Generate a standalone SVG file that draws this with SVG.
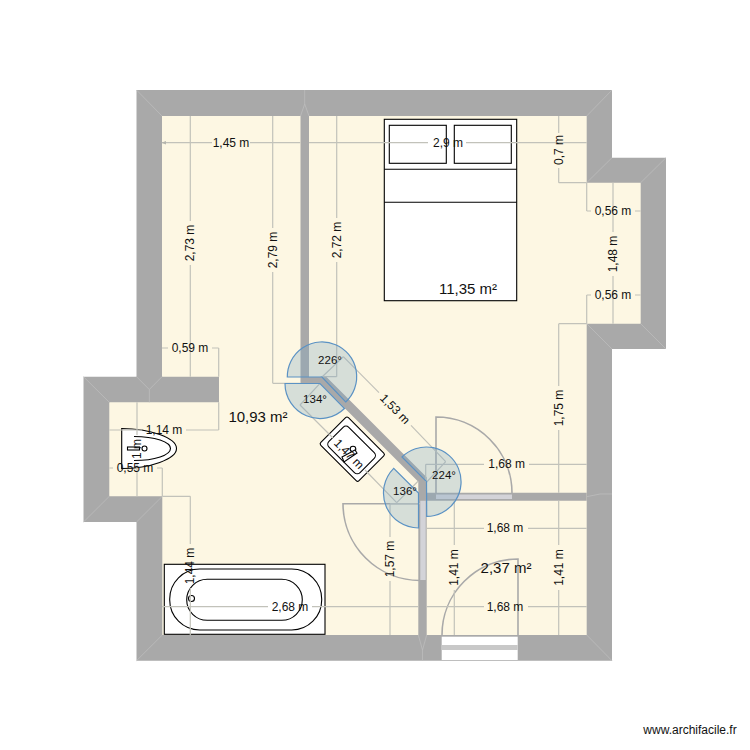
<svg xmlns="http://www.w3.org/2000/svg" width="750" height="750" viewBox="0 0 750 750">
<style>
text{font-family:"Liberation Sans",Arial,sans-serif;fill:#111;text-anchor:middle;dominant-baseline:central}
.d{font-size:12px}
.a{font-size:11.5px}
.s{font-size:15px}
.dl{fill:none;stroke:#c2c2ba;stroke-width:1.2;marker-start:url(#ar)}
.ex{fill:none;stroke:#c2c2ba;stroke-width:1.2}
.wall{fill:#a9a9a9}
.bg{fill:#fdf7e3}
.fu{fill:#fff;stroke:#000;stroke-width:1.1}
.fn{fill:none;stroke:#000;stroke-width:1.1}
.ang{fill:#7ea6c0;fill-opacity:.3;stroke:#5b92c4;stroke-width:1.2}
.door{fill:none;stroke:#a9a9a9;stroke-width:1.6}
.mit{fill:none;stroke:#bcbcbc;stroke-width:.8}
</style>
<defs>
<marker id="ar" viewBox="0 0 8 8" refX="1" refY="4" markerWidth="5" markerHeight="5" markerUnits="userSpaceOnUse" orient="auto"><path d="M8 1L0 4L8 7Z" fill="#b5b5ad"/></marker>
</defs>
<rect width="750" height="750" fill="#fff"/>
<g id="walls">
<path class="wall" d="M136.500 90H612V157.700H666V349H612V660.700H136.500V522H83.500V376.700H136.500Z"/>
<path class="bg" d="M162 116H586.700V182.700H640.700V323.700H586.700V635H162.300V496.300H109.300V402.300H219V376.700H162Z"/>
<path class="wall" d="M300.500 116H309V377H326.500L426.700 477.200V492.700H586.700V500.700H426.700V635H418.300V481.800L319.800 383.300H300.500Z"/>
<path class="mit" d="M136.500 90L162 116M612 90L586.700 116M612 157.700L586.700 182.700M666 157.700L640.700 182.700M666 349L640.700 323.700M612 349L586.700 323.700M612 660.700L586.700 635M136.500 660.700L162.300 635M136.500 522L162.300 496.300M83.500 522L109.300 496.300M83.500 376.700L109.300 402.300M136.500 376.700L149.300 389.500L162 376.700M149.300 389.500V402.300M304.700 90V104L300.500 116M304.700 104L309 116M422.500 660.700V650L418.300 635M422.500 650L426.700 635M586.700 496.700L600 494L612 494"/>
<path fill="#d3d3d8" d="M436 494.500H512V499H436ZM420.300 500.700H425.700V580H420.300Z"/>
<rect x="441.700" y="636.700" width="76" height="23.300" fill="#fff"/>
<rect x="441.700" y="645" width="76" height="5" fill="#c8c8c8"/>
</g>
<g id="bed">
<rect class="fu" x="384.300" y="119.300" width="132.400" height="181.400"/>
<path class="fn" d="M384.300 169.300H516.700M384.300 202.300H516.700"/>
<rect class="fn" x="389.300" y="125.300" width="57" height="38"/>
<rect class="fn" x="454.300" y="125.300" width="57" height="38"/>
</g>
<g id="bathtub">
<rect class="fu" x="164.300" y="564.300" width="160.700" height="70"/>
<rect class="fn" x="169.700" y="569" width="152" height="61" rx="30" ry="30"/>
<rect class="fn" x="186.700" y="579.300" width="115.600" height="41" rx="20.500" ry="20.500"/>
<circle class="fn" cx="191.500" cy="598.500" r="3"/>
</g>
<g id="sink-left">
<path class="fu" d="M121.700 428.500C150 428.500 176.500 438 176.500 448.500C176.500 459 150 468.500 121.700 468.500Z"/>
<path class="fn" d="M134 436.500C155 436.500 170.500 442 170.500 448.500C170.500 455 155 460.500 134 460.500"/>
<rect class="fu" x="127.500" y="447" width="12" height="3"/>
<circle class="fu" cx="144.500" cy="448.500" r="2.500"/>
</g>
<g id="sink-diagonal">
<rect class="fu" x="-27" y="-19.500" width="54" height="39" rx="2" transform="translate(352.300 449.200) rotate(45)"/>
<rect class="fn" x="-22" y="-13" width="44" height="28" rx="4" transform="translate(352.300 449.200) rotate(45)"/>
<circle class="fu" cx="353" cy="449" r="2.800"/>
<path class="fu" d="M342 457L355 450L357 453L344 462Z"/>
</g>
<g id="connectors">
<path class="door" d="M436 493V417A76 76 0 0 1 512 493M420 580.500A77 77 0 0 1 343 503.700H420M442 635A76 76 0 0 1 518 559V635"/>
<path class="dl" d="M162 142.700H212M300.300 142.700H250M309 142.700H428M586.700 142.700H466M558.700 116V133M558.700 182.700V168M586.700 211H591M640.700 211H635M586.700 295H591M640.700 295H635M613 182.700V232M613 323.700V276M558.700 323.700V386M558.700 492.700V430M190.300 116V221M190.300 376.700V265M272.700 116V228M272.700 383.300V272M336.700 116V218M336.700 376.700V262M162 348H168M218.700 348H212M109.300 430H142M218.700 430H186M109.300 468H113M162.300 468H157M137 402.300V435M137 496.300V463M190.300 496.300V544M190.300 635V588M390 503.700V537M390 635V581M343.300 356.700L379 392.600M445.700 461.700L411 425.400M300 405L333 438M396.700 502.700L365 470M425.700 464.300H484M586.700 464.300H529M426.700 528.300H484M586.700 528.300H528M426.700 606.700H484M586.700 606.700H528M162 606.700H268M418.300 606.700H312M454.300 500.700V545M454.300 635V590M558.700 500.700V545M558.700 635V590"/>
<path class="ex" d="M558.700 182.700H586.700M586.700 182.700V211M586.700 295V323.700M558.700 323.700H586.700M218.700 348V376.700M218.700 402.300V430M162.300 468V496.300M162.300 496.300H190.300M272.700 383.300H300.500M336.700 376.700H320.700M343.300 356.700L322 377M445.700 461.700L426.700 482M300 405L320 383.300M396.700 502.700L418.300 481M425.700 464.300V482M390 503.700H420"/>
</g>
<g id="angles">
<path class="ang" d="M322 377H287.300A34.700 34.700 0 1 1 345.700 402Z"/>
<path class="ang" d="M320 383.500H285A35 35 0 0 0 344.500 408.500Z"/>
<path class="ang" d="M426.500 481.700L402 457A34.700 34.700 0 1 1 426.700 516.400Z"/>
<path class="ang" d="M418.500 493V528A35 35 0 0 1 393.700 468.300Z"/>
</g>
<g id="labels">
<text class="d" x="231" y="142.700">1,45 m</text>
<text class="d" x="448" y="142.700">2,9 m</text>
<text class="d" transform="translate(558.700 150) rotate(-90)">0,7 m</text>
<text class="d" x="613" y="211">0,56 m</text>
<text class="d" x="613" y="295">0,56 m</text>
<text class="d" transform="translate(613 254) rotate(-90)">1,48 m</text>
<text class="d" transform="translate(558.700 408) rotate(-90)">1,75 m</text>
<text class="d" transform="translate(190.300 243) rotate(-90)">2,73 m</text>
<text class="d" transform="translate(272.700 250) rotate(-90)">2,79 m</text>
<text class="d" transform="translate(336.700 240) rotate(-90)">2,72 m</text>
<text class="d" x="190" y="348">0,59 m</text>
<text class="d" x="164" y="430">1,14 m</text>
<text class="d" x="135" y="468">0,55 m</text>
<text class="d" transform="translate(137 449) rotate(-90)">1 m</text>
<text class="d" transform="translate(190.300 566) rotate(-90)">1,44 m</text>
<text class="d" transform="translate(390 559) rotate(-90)">1,57 m</text>
<text class="d" transform="translate(395 409) rotate(45.700)">1,53 m</text>
<text class="d" transform="translate(349 454) rotate(45.700)">1,47 m</text>
<text class="d" x="506.700" y="464.300">1,68 m</text>
<text class="d" x="505" y="528.300">1,68 m</text>
<text class="d" x="505" y="606.700">1,68 m</text>
<text class="d" x="290" y="606.700">2,68 m</text>
<text class="d" transform="translate(454.300 567.500) rotate(-90)">1,41 m</text>
<text class="d" transform="translate(558.700 567.500) rotate(-90)">1,41 m</text>
<text class="a" x="330" y="360">226°</text>
<text class="a" x="315" y="398.500">134°</text>
<text class="a" x="444" y="475">224°</text>
<text class="a" x="405" y="491">136°</text>
<text class="s" x="468" y="288">11,35 m²</text>
<text class="s" x="258" y="416">10,93 m²</text>
<text class="s" x="506" y="567">2,37 m²</text>
<text x="690" y="730" font-size="12px">www.archifacile.fr</text>
</g>
</svg>
